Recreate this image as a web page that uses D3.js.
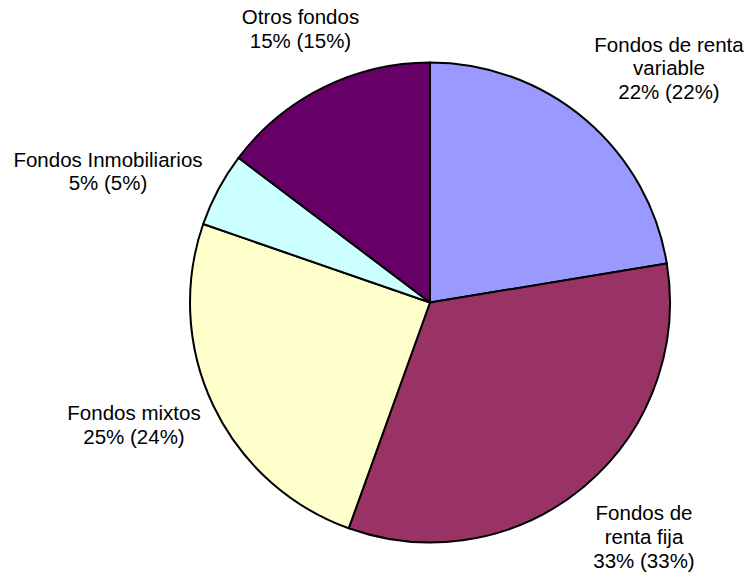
<!DOCTYPE html>
<html>
<head>
<meta charset="utf-8">
<script src="https://cdn.jsdelivr.net/npm/d3@7"></script>
<style>
  body { margin: 0; background: #fff; }
  text { font-family: "Liberation Sans", Arial, sans-serif; font-size: 20.5px; fill: #000; }
</style>
</head>
<body>
<div id="pie-chart"></div>
<script>
// slice data, clockwise from 12 o'clock
const categories = [
    ["Fondos de renta", "variable"],
    ["Fondos de", "renta fija"],
    ["Fondos mixtos"],
    ["Fondos Inmobiliarios"],
    ["Otros fondos"]
];
const values = [22.4, 33.1, 24.8, 5.0, 14.7];
const percentLabels = ["22% (22%)", "33% (33%)", "25% (24%)", "5% (5%)", "15% (15%)"];
const colors = ["#9999FF", "#993366", "#FFFFCC", "#CCFFFF", "#660066"];

// where Excel dropped each label (center x, first baseline)
const labelPos = [[669, 51.5], [644, 520], [134, 420], [108, 166.5], [300.5, 24]];

const width = 750, height = 578;
const cx = 430, cy = 302.5, radius = 240;
const lineHeight = 23.8;

const svg = d3.select("#pie-chart")
    .append("svg")
    .attr("width", width)
    .attr("height", height);

const body = svg.append("g")
    .attr("transform", "translate(" + cx + "," + cy + ")");

const pie = d3.pie().sort(null).value(d => d);
const arc = d3.arc().innerRadius(0).outerRadius(radius);

body.selectAll("path")
    .data(pie(values))
    .enter()
    .append("path")
    .attr("d", arc)
    .style("fill", (d, i) => colors[i])
    .style("stroke", "#000")
    .style("stroke-width", 2)
    .style("stroke-linejoin", "round");

// labels
const labels = svg.append("g")
    .selectAll("text")
    .data(categories)
    .enter()
    .append("text")
    .attr("text-anchor", "middle")
    .attr("x", (d, i) => labelPos[i][0])
    .attr("y", (d, i) => labelPos[i][1]);

labels.each(function (d, i) {
    const t = d3.select(this);
    d.concat([percentLabels[i]]).forEach((line, j) => {
        t.append("tspan")
            .attr("x", labelPos[i][0])
            .attr("dy", j === 0 ? 0 : lineHeight)
            .text(line);
    });
});
</script>
</body>
</html>
